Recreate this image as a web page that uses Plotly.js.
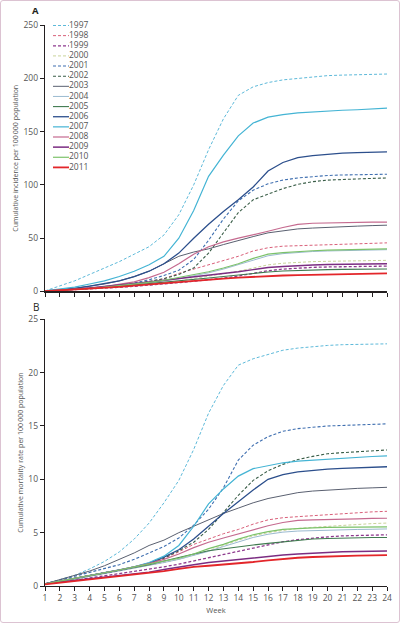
<!DOCTYPE html>
<html>
<head>
<meta charset="utf-8">
<script src="https://cdn.plot.ly/plotly-3.0.1.min.js"></script>
<style>
  html, body { margin: 0; padding: 0; background: #fff; }
  #wrap { position: relative; width: 400px; height: 623px; }
  #chart { width: 400px; height: 623px; }
  #frame { position: absolute; left: 0; top: 0; width: 400px; height: 623px; box-sizing: border-box;
           border: 1px solid #dcc3d2; border-radius: 3px; pointer-events: none; }
</style>
</head>
<body>
<div id="wrap"><div id="chart"></div><div id="frame"></div></div>
<script>
// ---- data ----
const weeks = [1,2,3,4,5,6,7,8,9,10,11,12,13,14,15,16,17,18,19,20,21,22,23,24];
const years = ['1997','1998','1999','2000','2001','2002','2003','2004','2005','2006','2007','2008','2009','2010','2011'];

// Panel A: cumulative incidence per 100 000
const inc1997 = [0.5,5,10,16,22,28,35,42,53,72,100,133,162,184,192,196,198.5,200,201.5,202.5,203,203.5,204,204];
const inc1998 = [0.3,1,2,3,4.2,5.5,7,9,12,17,21,25,29.5,33,38,41,42.5,43,43.7,44,44.4,44.8,45.2,45.6];
const inc1999 = [0.3,0.9,1.5,2.2,3,3.9,4.8,5.8,7,8.3,9.7,11,12.5,14.5,17,19.5,21,22,22.6,23,23.2,23.4,23.6,23.8];
const inc2000 = [0.3,0.9,1.6,2.4,3.3,4.3,5.4,6.6,8,9.8,12,14,16.5,19,22,25,26.5,27.5,28,28.3,28.6,28.8,29,29.2];
const inc2001 = [0.3,1,2,3,4.5,6,8,11,15,20,30,48,68,85,95,101,104.5,106.5,108,108.8,109.3,109.6,109.8,110];
const inc2002 = [0.3,1,2,3,4,5.5,7,9.5,12,16,22,36,55,74,86,91.5,96.5,100.5,103,104.5,105.2,105.7,106.1,106.5];
const inc2003 = [0.3,1.5,3,5,7,10,14,19,26,33,37,40,44,48,51.5,55,57,58.7,59.5,60.3,60.8,61.3,61.8,62.2];
const inc2004 = [0.3,1,1.8,2.7,3.8,5,6.4,8,9.8,12,14.5,17.5,21,25,29.5,33.5,35.5,36.8,37.5,38,38.4,38.7,39,39.2];
const inc2005 = [0.3,1,1.8,2.7,3.7,4.8,6,7.3,8.7,10,11.3,12.6,14,15.5,17,18.3,19.2,19.8,20.2,20.5,20.7,20.9,21,21.1];
const inc2006 = [0.5,1.5,3,5,7.5,10,14,19,26,36,50,63,75,86,98,113,121,125.5,127.5,129,129.8,130.3,130.7,131];
const inc2007 = [0.5,2,4,7,10,14,19,25,33,50,76,108,128,146,158,163.5,166,167.5,168.5,169,170,170.5,171.3,172];
const inc2008 = [0.3,1,2,3,4.5,6.5,9,13,18,26,35,42,46.5,50,53,56.5,60,63,64,64.4,64.6,64.8,65,65];
const inc2009 = [0.3,1,2,3.2,4.5,6,7.5,9,10.5,12,14,15.5,17,18.5,20.5,22.5,23.5,24.3,24.8,25.2,25.5,25.7,25.9,26];
const inc2010 = [0.3,1,1.8,2.8,4,5.3,6.8,8.5,10.5,13,15.5,18.5,22,26,31,35,36.5,37.5,38.2,38.8,39.2,39.5,39.8,40];
const inc2011 = [0.3,1,1.8,2.6,3.5,4.4,5.5,6.6,8,9.5,10.5,11.3,12.1,13,13.8,14.5,15,15.4,15.7,16,16.3,16.5,16.8,17];

// Panel B: cumulative mortality rate per 100 000
const mor1997 = [0.2,0.6,1.0,1.6,2.3,3.2,4.4,5.9,7.8,9.9,12.8,16.2,18.8,20.7,21.3,21.7,22.1,22.3,22.45,22.55,22.62,22.67,22.7,22.7];
const mor1998 = [0.2,0.45,0.7,0.95,1.2,1.5,1.8,2.1,2.6,3.2,3.9,4.4,4.9,5.3,5.8,6.2,6.4,6.5,6.6,6.7,6.8,6.9,6.95,7.0];
const mor1999 = [0.2,0.35,0.55,0.75,0.95,1.15,1.35,1.55,1.8,2.05,2.35,2.7,3.0,3.3,3.6,3.9,4.15,4.35,4.5,4.6,4.7,4.75,4.78,4.8];
const mor2000 = [0.2,0.4,0.65,0.9,1.15,1.4,1.65,1.9,2.2,2.5,2.9,3.3,3.8,4.3,4.7,5.0,5.2,5.4,5.5,5.6,5.7,5.8,5.85,5.9];
const mor2001 = [0.2,0.55,0.9,1.25,1.6,2.0,2.5,3.1,3.7,4.5,5.7,7.2,9.2,11.8,13.2,14.0,14.5,14.75,14.9,15.0,15.05,15.1,15.15,15.2];
const mor2002 = [0.2,0.45,0.7,0.95,1.2,1.45,1.75,2.1,2.6,3.3,4.1,5.3,6.9,8.5,9.9,10.8,11.4,11.85,12.15,12.4,12.5,12.6,12.68,12.75];
const mor2003 = [0.2,0.6,1.0,1.4,1.9,2.5,3.1,3.8,4.3,5.0,5.6,6.2,6.8,7.3,7.8,8.2,8.5,8.75,8.9,9.0,9.1,9.15,9.2,9.25];
const mor2004 = [0.2,0.4,0.65,0.9,1.15,1.4,1.65,1.9,2.2,2.5,2.85,3.25,3.7,4.15,4.55,4.85,5.05,5.15,5.2,5.25,5.28,5.3,5.32,5.35];
const mor2005 = [0.2,0.45,0.7,0.95,1.2,1.45,1.7,2.0,2.35,2.7,3.0,3.3,3.5,3.7,3.85,4.0,4.15,4.3,4.4,4.45,4.5,4.52,4.54,4.55];
const mor2006 = [0.2,0.45,0.7,0.95,1.2,1.5,1.8,2.15,2.7,3.4,4.4,5.6,6.8,7.9,9.0,10.0,10.45,10.7,10.85,10.95,11.02,11.08,11.13,11.18];
const mor2007 = [0.2,0.45,0.7,0.95,1.2,1.5,1.8,2.2,2.8,3.8,5.6,7.7,9.1,10.3,11.0,11.3,11.55,11.7,11.8,11.9,12.0,12.07,12.14,12.2];
const mor2008 = [0.2,0.45,0.7,0.95,1.2,1.5,1.8,2.1,2.5,3.0,3.6,4.1,4.5,4.9,5.3,5.65,5.95,6.15,6.2,6.25,6.28,6.3,6.33,6.35];
const mor2009 = [0.2,0.35,0.5,0.65,0.8,0.95,1.1,1.3,1.55,1.8,2.0,2.2,2.35,2.5,2.65,2.8,2.9,3.0,3.1,3.15,3.2,3.22,3.25,3.27];
const mor2010 = [0.2,0.45,0.7,0.95,1.2,1.5,1.8,2.05,2.3,2.6,3.0,3.5,3.9,4.4,4.8,5.1,5.3,5.4,5.45,5.5,5.5,5.52,5.53,5.55];
const mor2011 = [0.15,0.3,0.45,0.6,0.75,0.9,1.05,1.2,1.4,1.6,1.8,1.9,2.0,2.1,2.25,2.4,2.55,2.65,2.72,2.78,2.82,2.85,2.87,2.9];

const yTicksA = [0,50,100,150,200,250];
const yTicksB = [0,5,10,15,20,25];

// ---- styles ----
const incidence = [inc1997,inc1998,inc1999,inc2000,inc2001,inc2002,inc2003,inc2004,inc2005,inc2006,inc2007,inc2008,inc2009,inc2010,inc2011];
const mortality = [mor1997,mor1998,mor1999,mor2000,mor2001,mor2002,mor2003,mor2004,mor2005,mor2006,mor2007,mor2008,mor2009,mor2010,mor2011];
const colors = ['#5db9d9','#d9607a','#8e3a8e','#c9d49a','#3f6fb0','#3a5e48','#5a6070','#9bbad0','#3f7a4f','#2c4f8c','#44b4d4','#c56a8f','#7b2d82','#7cc26a','#e3262a'];
const dashes = ['3px,2px','3px,2px','3px,2px','3px,2px','3px,2px','3px,2px','solid','solid','solid','solid','solid','solid','solid','solid','solid'];
const widths = [1,1,1.3,1,1.1,1.1,1,1,1.1,1.3,1.2,1.2,1.5,1.2,1.8];

const FONT = 'Open Sans, Lato, sans-serif';
const GREY = '#555';
const traces = [];
years.forEach((yr, i) => {
  const line = {color: colors[i], width: widths[i], dash: dashes[i]};
  traces.push({x: weeks, y: incidence[i], xaxis: 'x', yaxis: 'y', mode: 'lines', name: yr, line, showlegend: false, hoverinfo: 'skip'});
  traces.push({x: weeks, y: mortality[i], xaxis: 'x2', yaxis: 'y2', mode: 'lines', name: yr, line, showlegend: false, hoverinfo: 'skip'});
  // legend sample
  traces.push({x: [0, 1], y: [i, i], xaxis: 'x3', yaxis: 'y3', mode: 'lines', line, showlegend: false, hoverinfo: 'skip'});
});
traces.push({x: years.map(() => 1), y: years.map((_, i) => i), text: years, xaxis: 'x3', yaxis: 'y3',
  mode: 'text', textposition: 'middle right', cliponaxis: false,
  textfont: {family: FONT, size: 8.5, color: GREY}, showlegend: false, hoverinfo: 'skip'});

const axisCommon = {showline: true, linecolor: '#231f20', linewidth: 1.2, ticks: 'outside', ticklen: 4,
  tickwidth: 1, tickcolor: '#231f20', showgrid: false, zeroline: false, fixedrange: true,
  tickfont: {family: FONT, size: 8.5, color: GREY}};

const layout = {
  width: 400, height: 623,
  margin: {l: 45, r: 13, t: 25, b: 37},
  paper_bgcolor: '#fff', plot_bgcolor: '#fff',
  showlegend: false,
  font: {family: FONT, color: GREY},
  xaxis: Object.assign({}, axisCommon, {domain: [0, 1], range: [1, 24], tickvals: weeks, showticklabels: false, anchor: 'y'}),
  yaxis: Object.assign({}, axisCommon, {domain: [0.525, 1], range: [0, 250], tickvals: yTicksA, anchor: 'x',
    title: {text: 'Cumulative incidence per 100\u2009000 population', font: {family: FONT, size: 7, color: GREY}, standoff: 4}}),
  xaxis2: Object.assign({}, axisCommon, {domain: [0, 1], range: [1, 24], tickvals: weeks, anchor: 'y2',
    title: {text: 'Week', font: {family: FONT, size: 7.5, color: GREY}, standoff: 5}}),
  yaxis2: Object.assign({}, axisCommon, {domain: [0, 0.4754], range: [0, 25], tickvals: yTicksB, anchor: 'x2',
    title: {text: 'Cumulative mortality rate per 100\u2009000 population', font: {family: FONT, size: 7, color: GREY}, standoff: 4}}),
  xaxis3: {domain: [0.0234, 0.0702], range: [0, 1], visible: false, anchor: 'y3', fixedrange: true},
  yaxis3: {domain: [0.729, 1], range: [14.95, -0.05], visible: false, anchor: 'x3', fixedrange: true},
  annotations: [
    {text: '<b>A</b>', xref: 'paper', yref: 'paper', x: -0.029, y: 1.0255, showarrow: false,
     xanchor: 'center', yanchor: 'middle', font: {family: FONT, size: 9.5, color: '#231f20'}},
    {text: 'B', xref: 'paper', yref: 'paper', x: -0.027, y: 0.497, showarrow: false,
     xanchor: 'center', yanchor: 'middle', font: {family: FONT, size: 10, color: '#231f20'}}
  ]
};

Plotly.newPlot('chart', traces, layout, {displayModeBar: false, staticPlot: true});
</script>
</body>
</html>
